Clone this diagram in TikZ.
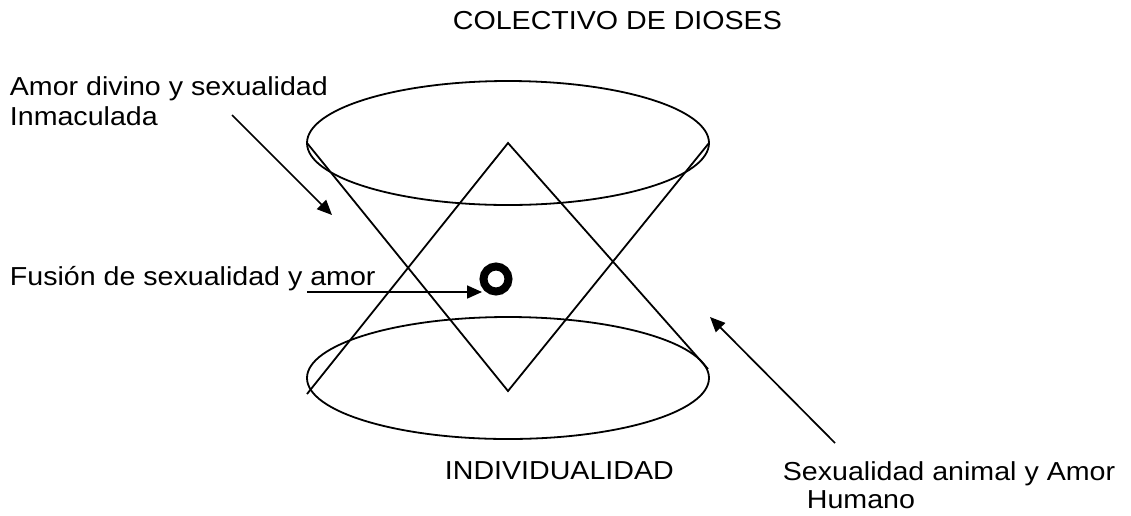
\documentclass[tikz,border=0pt]{standalone}
\usepackage{fontspec}
\setmainfont{Liberation Sans}[FakeStretch=1.1]
\usetikzlibrary{arrows.meta}
\begin{document}
\begin{tikzpicture}[x=1pt,y=-1pt, line width=1.8pt,
  lbl/.style={anchor=base west, inner sep=0pt, font=\fontsize{26}{30}\selectfont},
  arr/.style={-{Triangle[length=15pt,width=13pt]}, line width=1.7pt}]
\useasboundingbox (0,0) rectangle (1131,515);
% key points
\coordinate (TL) at (307,143);
\coordinate (TR) at (709,143);
\coordinate (Atop) at (508,143);
\coordinate (Abot) at (508,391);
\coordinate (BLend) at (307,394);
\coordinate (BRend) at (708,369);
% ellipses
\draw (508,143) ellipse [x radius=201, y radius=62];
\draw (508,378) ellipse [x radius=201, y radius=61];
% upper cone (apex at bottom)
\draw (TL) -- (Abot) -- (TR);
% lower cone (apex at top)
\draw (BLend) -- (Atop) -- (BRend);
% ring
\node (ring) [circle, draw, line width=8pt, minimum size=25pt, inner sep=0pt] at (496,279) {};
% labels
\node[lbl] (title) at (452,29) {COLECTIVO DE DIOSES};
\node[lbl] (amor1) at (9,95) {Amor divino y sexualidad};
\node[lbl] (amor2) at (9,125) {Inmaculada};
\node[lbl] (fusion) at (9,285) {Fusión de sexualidad y amor};
\node[lbl] (indiv) at (444,479) {INDIVIDUALIDAD};
\node[lbl] (sex1) at (782,480) {Sexualidad animal y Amor};
\node[lbl] (sex2) at (806,508) {Humano};
% arrows
\coordinate (a1s) at (232,115);
\coordinate (a1e) at (332,215);
\coordinate (a2s) at (307,292);
\coordinate (a2e) at (482,292);
\coordinate (a3s) at (835,443);
\coordinate (a3e) at (710,317);
\draw[arr] (a1s) -- (a1e);
\draw[arr] (a2s) -- (a2e);
\draw[arr] (a3s) -- (a3e);
\end{tikzpicture}
\end{document}
